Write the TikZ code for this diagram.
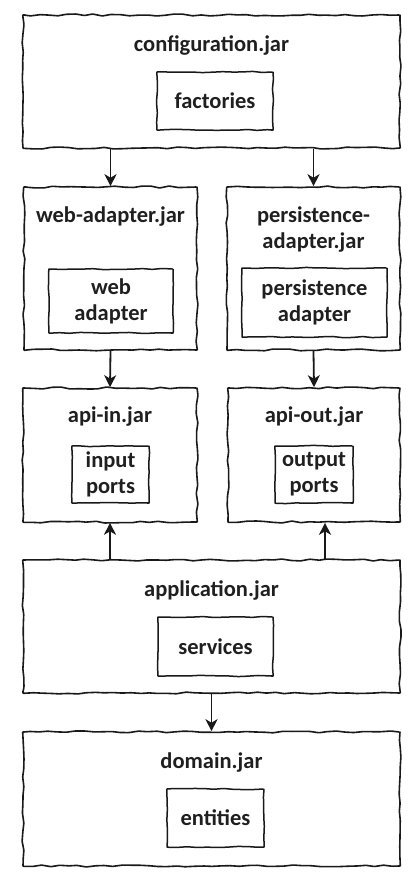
\documentclass[tikz,border=0pt]{standalone}
\usepackage{fontspec}
\setmainfont{Carlito}
\usetikzlibrary{arrows.meta,decorations.pathmorphing}
\begin{document}
\begin{tikzpicture}[x=1pt,y=-1pt,
  every node/.style={font=\bfseries\fontsize{22.5}{26}\selectfont, text=black!88, align=center, inner sep=0pt},
  outerbox/.style={draw=black!90, line width=1.6pt, rounded corners=0.6pt,
    decorate, decoration={random steps, segment length=9pt, amplitude=1pt}},
  innerbox/.style={draw=black!90, line width=1.5pt, rounded corners=0.4pt,
    decorate, decoration={random steps, segment length=10pt, amplitude=0.6pt}},
  conn/.style={line width=1.8pt, draw=black!90, -{Stealth[length=12pt,width=12pt,inset=3.5pt]}}
]
\useasboundingbox (0,0) rectangle (419,881);
\pgfmathsetseed{7}
% configuration
\node[outerbox, minimum width=377pt, minimum height=133pt] (config) at (211.5,81.5) {};
\node (configt) at (211.5,45) {configuration.jar};
\node[innerbox, minimum width=116pt, minimum height=58pt] (factories) at (215,101) {factories};
% web adapter
\node[outerbox, minimum width=173pt, minimum height=163pt] (web) at (110.5,268.5) {};
\node (webt) at (110.5,217) {web-adapter.jar};
\node[innerbox, minimum width=124pt, minimum height=64pt] (webi) at (111,301) {web\\adapter};
% persistence adapter
\node[outerbox, minimum width=173pt, minimum height=163pt] (pers) at (313.5,268.5) {};
\node (perst) at (313.5,230) {persistence-\\adapter.jar};
\node[innerbox, minimum width=145pt, minimum height=69pt] (persi) at (314.5,302.5) {persistence\\adapter};
% api-in
\node[outerbox, minimum width=174pt, minimum height=134pt] (apiin) at (110,455) {};
\node (apiint) at (110,417) {api-in.jar};
\node[innerbox, minimum width=77pt, minimum height=57pt] (apiini) at (110.5,474.5) {input\\ports};
% api-out
\node[outerbox, minimum width=172pt, minimum height=134pt] (apiout) at (314,455) {};
\node (apioutt) at (314,417) {api-out.jar};
\node[innerbox, minimum width=78pt, minimum height=57pt] (apiouti) at (314,474.5) {output\\ports};
% application
\node[outerbox, minimum width=377pt, minimum height=133pt] (app) at (211.5,626.5) {};
\node (appt) at (211.5,590) {application.jar};
\node[innerbox, minimum width=115pt, minimum height=59pt] (services) at (215.5,646.5) {services};
% domain
\node[outerbox, minimum width=377pt, minimum height=134pt] (domain) at (211.5,799) {};
\node (domaint) at (211.5,762) {domain.jar};
\node[innerbox, minimum width=97pt, minimum height=58pt] (entities) at (215.5,818) {entities};
% connectors
\draw[conn] (config.south -| web.north) -- (web.north);
\draw[conn] (config.south -| pers.north) -- (pers.north);
\draw[conn] (web.south) -- (apiin.north);
\draw[conn] (pers.south) -- (apiout.north);
\draw[conn] (app.north -| apiin.south) -- (apiin.south);
\draw[conn] ([xshift=11pt]app.north -| apiout.south) -- ([xshift=11pt]apiout.south);
\draw[conn] (app.south) -- (domain.north);
\end{tikzpicture}
\end{document}
